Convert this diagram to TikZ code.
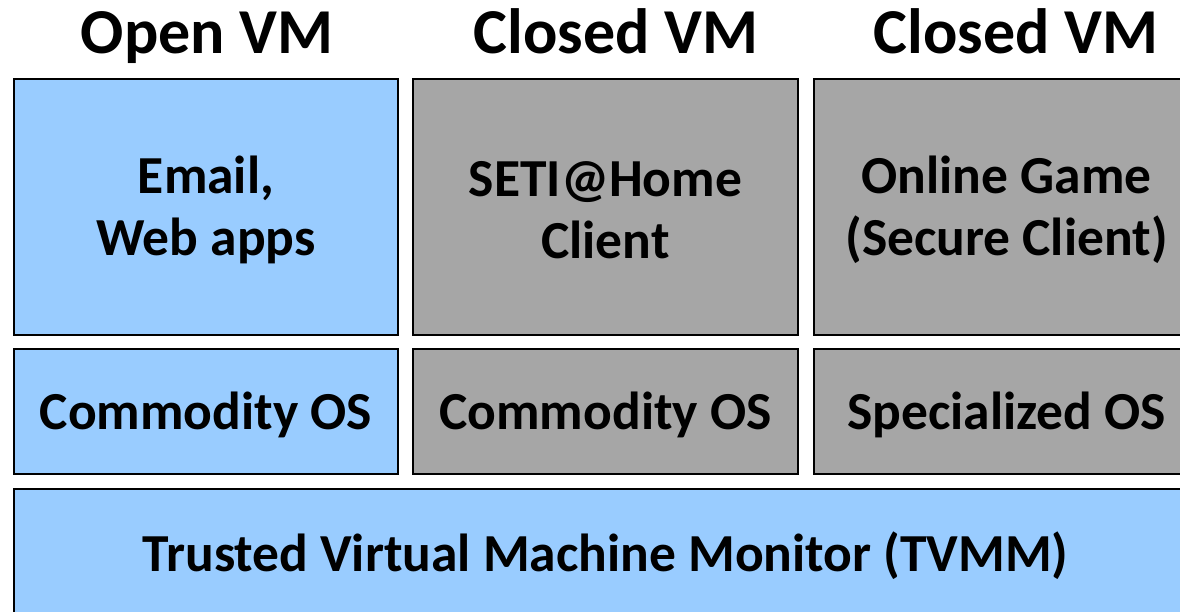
\documentclass[tikz,border=0pt]{standalone}
\usepackage{fontspec}
\setmainfont{Carlito}
\begin{document}
\begin{tikzpicture}[x=1pt,y=-1pt,
  layer/.style={draw=black, line width=1.5pt, inner sep=0pt},
  openvm/.style={layer, fill=openblue},
  closedvm/.style={layer, fill=closedgray},
  caption/.style={inner sep=0pt, align=center, font=\bfseries\fontsize{53.5}{62}\selectfont},
  vmtitle/.style={anchor=base, inner sep=0pt, font=\bfseries\fontsize{64}{70}\selectfont}]
\definecolor{openblue}{RGB}{153,204,255}
\definecolor{closedgray}{RGB}{166,166,166}
\useasboundingbox (0,0) rectangle (1180,612);
\clip (0,0) rectangle (1180,612);
% VM headings
\node[vmtitle] (t1) at (207,54) {Open VM};
\node[vmtitle] (t2) at (616,54) {Closed VM};
\node[vmtitle] (t3) at (1016,54) {Closed VM};
% applications
\node[openvm, minimum width=384pt, minimum height=256pt] (app1) at (206,207) {};
\node[closedvm, minimum width=385pt, minimum height=256pt] (app2) at (605.5,207) {};
\node[closedvm, minimum width=385pt, minimum height=256pt] (app3) at (1006.5,207) {};
% guest operating systems
\node[openvm, minimum width=384pt, minimum height=125pt] (os1) at (206,411.5) {};
\node[closedvm, minimum width=385pt, minimum height=125pt] (os2) at (605.5,411.5) {};
\node[closedvm, minimum width=385pt, minimum height=125pt] (os3) at (1006.5,411.5) {};
% hypervisor
\node[openvm, minimum width=1185pt, minimum height=128pt] (tvmm) at (606.5,553) {};
% layer captions
\node[caption] (c1) at ([yshift=-3pt]app1.center) {Email,\\Web apps};
\node[caption] (c2) at ([yshift=-3pt]app2.center) {SETI@Home\\Client};
\node[caption] (c3) at ([yshift=-3pt]app3.center) {Online Game\\(Secure Client)};
\node[caption] (c4) at ([yshift=-3pt]os1.center) {Commodity OS};
\node[caption] (c5) at ([yshift=-3pt]os2.center) {Commodity OS};
\node[caption] (c6) at ([yshift=-3pt]os3.center) {Specialized OS};
\node[caption] (c7) at ([yshift=-3pt,xshift=-1pt]tvmm.center) {Trusted Virtual Machine Monitor (TVMM)};
\end{tikzpicture}
\end{document}
